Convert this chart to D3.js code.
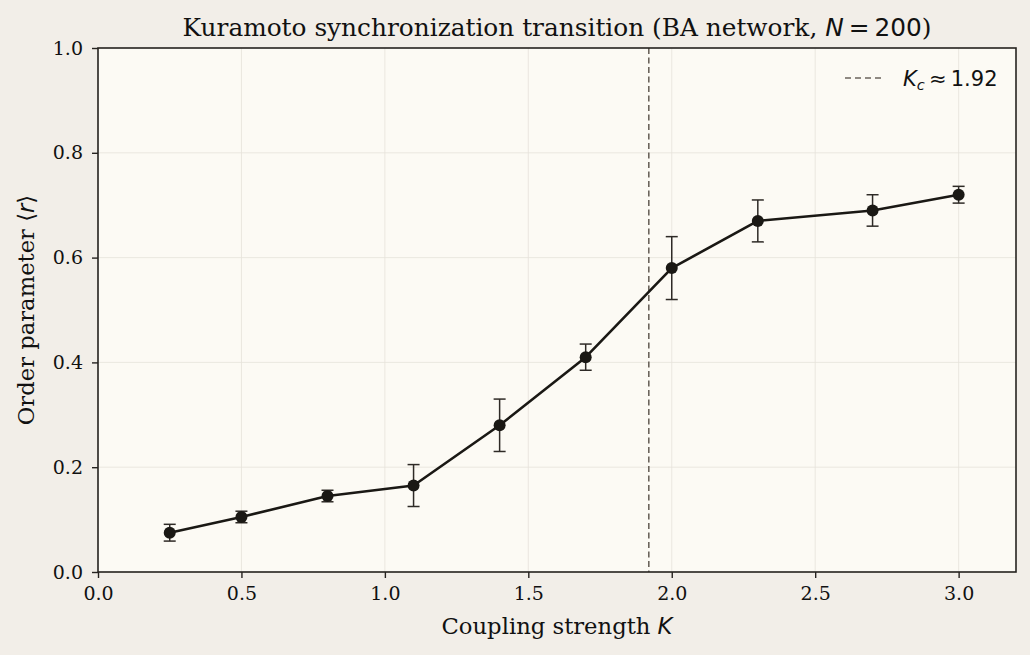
<!DOCTYPE html>
<html>
<head>
<meta charset="utf-8">
<script src="https://cdn.jsdelivr.net/npm/d3@7"></script>
<style>
  body { margin: 0; background: #f2eee8; }
  svg { display: block; }
  .serif { font-family: "DejaVu Serif", serif; }
  .math { font-family: "DejaVu Sans", sans-serif; }
</style>
</head>
<body>
<div id="chart"></div>
<script>
// coupling strength K and time-averaged order parameter <r>
const couplingK = [0.25, 0.5, 0.8, 1.1, 1.4, 1.7, 2.0, 2.3, 2.7, 3.0];
const orderR = [0.075, 0.105, 0.145, 0.165, 0.28, 0.41, 0.58, 0.67, 0.69, 0.72];
const orderErr = [0.016, 0.011, 0.011, 0.04, 0.05, 0.025, 0.06, 0.04, 0.03, 0.016];
const criticalK = 1.92;
const xTicks = [0.0, 0.5, 1.0, 1.5, 2.0, 2.5, 3.0];
const yTicks = [0.0, 0.2, 0.4, 0.6, 0.8, 1.0];

const width = 1030, height = 655;
const margin = { top: 48, right: 14, bottom: 83, left: 98 };
const innerW = width - margin.left - margin.right;
const innerH = height - margin.top - margin.bottom;

const svg = d3.select('#chart')
    .append('svg')
    .attr('width', width)
    .attr('height', height);

svg.append('rect')
    .attr('width', width)
    .attr('height', height)
    .attr('fill', '#f2eee8');

const x = d3.scaleLinear().domain([0, 3.2]).range([0, innerW]);
const y = d3.scaleLinear().domain([0, 1]).range([innerH, 0]);

const g = svg.append('g')
    .attr('transform', `translate(${margin.left},${margin.top})`);

g.append('rect')
    .attr('width', innerW)
    .attr('height', innerH)
    .attr('fill', '#fcfaf4');

// grid
g.append('g')
    .selectAll('line')
    .data(xTicks)
    .join('line')
    .attr('x1', d => x(d)).attr('x2', d => x(d))
    .attr('y1', 0).attr('y2', innerH)
    .attr('stroke', '#e6e2db')
    .attr('stroke-width', 0.8);
g.append('g')
    .selectAll('line')
    .data(yTicks)
    .join('line')
    .attr('x1', 0).attr('x2', innerW)
    .attr('y1', d => y(d)).attr('y2', d => y(d))
    .attr('stroke', '#e6e2db')
    .attr('stroke-width', 0.8);

// critical coupling
g.append('line')
    .attr('x1', x(criticalK)).attr('x2', x(criticalK))
    .attr('y1', 0).attr('y2', innerH)
    .attr('stroke', '#6b645c')
    .attr('stroke-width', 1.6)
    .attr('stroke-dasharray', '6 3.5');

const pts = couplingK.map((k, i) => ({ k: k, r: orderR[i], e: orderErr[i] }));

// error bars
const eb = g.append('g')
    .attr('stroke', '#2e2a26')
    .attr('stroke-width', 1.5);
eb.selectAll('line.v')
    .data(pts)
    .join('line')
    .attr('class', 'v')
    .attr('x1', d => x(d.k)).attr('x2', d => x(d.k))
    .attr('y1', d => y(d.r - d.e)).attr('y2', d => y(d.r + d.e));
eb.selectAll('line.lo')
    .data(pts)
    .join('line')
    .attr('class', 'lo')
    .attr('x1', d => x(d.k) - 6).attr('x2', d => x(d.k) + 6)
    .attr('y1', d => y(d.r - d.e)).attr('y2', d => y(d.r - d.e));
eb.selectAll('line.hi')
    .data(pts)
    .join('line')
    .attr('class', 'hi')
    .attr('x1', d => x(d.k) - 6).attr('x2', d => x(d.k) + 6)
    .attr('y1', d => y(d.r + d.e)).attr('y2', d => y(d.r + d.e));

g.append('path')
    .datum(pts)
    .attr('fill', 'none')
    .attr('stroke', '#1a1814')
    .attr('stroke-width', 2.6)
    .attr('stroke-linejoin', 'round')
    .attr('d', d3.line().x(d => x(d.k)).y(d => y(d.r)));

g.append('g')
    .selectAll('circle')
    .data(pts)
    .join('circle')
    .attr('cx', d => x(d.k))
    .attr('cy', d => y(d.r))
    .attr('r', 6)
    .attr('fill', '#1a1814');

// spines
g.append('rect')
    .attr('width', innerW)
    .attr('height', innerH)
    .attr('fill', 'none')
    .attr('stroke', '#262320')
    .attr('stroke-width', 1.6);

// axes
const xAxis = g.append('g')
    .attr('transform', `translate(0,${innerH})`)
    .call(d3.axisBottom(x).tickValues(xTicks).tickFormat(d3.format('.1f')).tickSize(6).tickPadding(9));
const yAxis = g.append('g')
    .call(d3.axisLeft(y).tickValues(yTicks).tickFormat(d3.format('.1f')).tickSize(6).tickPadding(9));
[xAxis, yAxis].forEach(a => {
    a.select('.domain').remove();
    a.selectAll('line').attr('stroke', '#262320').attr('stroke-width', 1.4);
    a.selectAll('text')
        .attr('class', 'serif')
        .attr('font-family', 'DejaVu Serif')
        .attr('font-size', 19)
        .attr('fill', '#111');
});

// title
const title = svg.append('text')
    .attr('class', 'serif')
    .attr('x', margin.left + innerW / 2)
    .attr('y', 36)
    .attr('text-anchor', 'middle')
    .attr('font-size', 24.8)
    .attr('fill', '#111');
title.append('tspan').text('Kuramoto synchronization transition (BA network, ');
title.append('tspan').attr('class', 'math').attr('font-style', 'italic').text('N');
title.append('tspan').attr('class', 'math').text('\u2009=\u2009200');
title.append('tspan').text(')');

// x label
const xl = svg.append('text')
    .attr('class', 'serif')
    .attr('x', margin.left + innerW / 2)
    .attr('y', 634)
    .attr('text-anchor', 'middle')
    .attr('font-size', 22.7)
    .attr('fill', '#111');
xl.append('tspan').text('Coupling strength ');
xl.append('tspan').attr('class', 'math').attr('font-style', 'italic').text('K');

// y label
const yl = svg.append('text')
    .attr('class', 'serif')
    .attr('transform', `translate(34,${margin.top + innerH / 2}) rotate(-90)`)
    .attr('text-anchor', 'middle')
    .attr('font-size', 22.7)
    .attr('fill', '#111');
yl.append('tspan').text('Order parameter ');
yl.append('tspan').attr('class', 'math').text('\u27e8');
yl.append('tspan').attr('class', 'math').attr('font-style', 'italic').text('r');
yl.append('tspan').attr('class', 'math').text('\u27e9');

// legend
const lg = svg.append('g').attr('transform', 'translate(845,78)');
lg.append('line')
    .attr('x1', 0).attr('x2', 40)
    .attr('y1', 0).attr('y2', 0)
    .attr('stroke', '#6b645c')
    .attr('stroke-width', 1.6)
    .attr('stroke-dasharray', '6 4');
const lt = lg.append('text')
    .attr('class', 'math')
    .attr('x', 58)
    .attr('y', 7.5)
    .attr('font-size', 21)
    .attr('fill', '#111');
lt.append('tspan').attr('font-style', 'italic').text('K');
lt.append('tspan').attr('font-style', 'italic').attr('font-size', 14.5).attr('dy', 4).text('c');
lt.append('tspan').attr('dy', -4).text('\u2009\u2248\u20091.92');
</script>
</body>
</html>
